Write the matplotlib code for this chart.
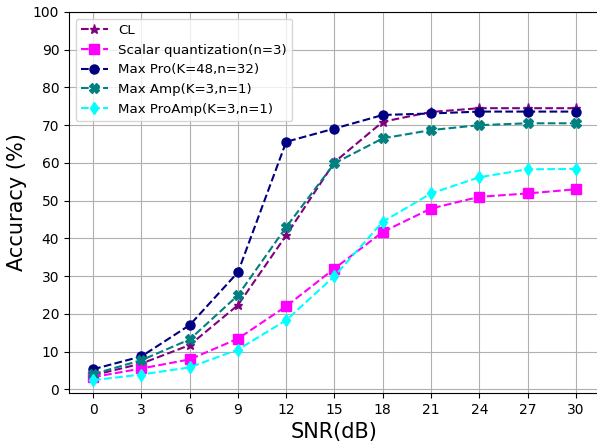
import matplotlib
matplotlib.use("Agg")
import matplotlib.pyplot as plt
import numpy as np

snr = [0, 3, 6, 9, 12, 15, 18, 21, 24, 27, 30]

acc_cl = [3.7, 6.8, 11.7, 22.3, 40.8, 60.2, 70.9, 73.5, 74.5, 74.5, 74.5]
acc_scalar = [3.2, 5.5, 7.9, 13.4, 22.0, 32.0, 41.7, 47.9, 51.0, 51.9, 53.0]
acc_maxpro = [5.3, 8.7, 17.0, 31.0, 65.6, 69.1, 72.7, 73.1, 73.6, 73.6, 73.6]
acc_maxamp = [4.0, 7.7, 13.2, 24.9, 43.0, 59.9, 66.5, 68.7, 70.0, 70.5, 70.5]
acc_proamp = [2.4, 3.9, 5.8, 10.5, 18.3, 30.0, 44.4, 51.9, 56.2, 58.3, 58.4]

labels = ["CL", "Scalar quantization(n=3)", "Max Pro(K=48,n=32)",
          "Max Amp(K=3,n=1)", "Max ProAmp(K=3,n=1)"]

fig = plt.figure(figsize=(5.97, 4.42), dpi=100)
ax = fig.add_axes([69/597, 1 - 393/442, 1.005 - 69/597, (393 - 12)/442])

ms = 6.5
ax.plot(snr, acc_cl, '--', marker='*', color='purple', markersize=ms, label=labels[0])
ax.plot(snr, acc_scalar, '--', marker='s', color='magenta', markersize=ms, label=labels[1])
ax.plot(snr, acc_maxpro, '--', marker='o', color='navy', markersize=ms, label=labels[2])
ax.plot(snr, acc_maxamp, '--', marker='X', color='teal', markersize=ms, label=labels[3])
ax.plot(snr, acc_proamp, '--', marker='d', color='cyan', markersize=ms, label=labels[4])

ax.set_xlim(-1.5, 31.5)
ax.set_ylim(-1, 100)
ax.set_xticks(snr)
ax.set_yticks(np.arange(0, 101, 10))
ax.tick_params(labelsize=10)
ax.set_xlabel("SNR(dB)", fontsize=15)
ax.set_ylabel("Accuracy (%)", fontsize=15)
ax.grid(True)
ax.legend(loc='upper left', fontsize=9.6)

fig.savefig("out.png", dpi=100)
